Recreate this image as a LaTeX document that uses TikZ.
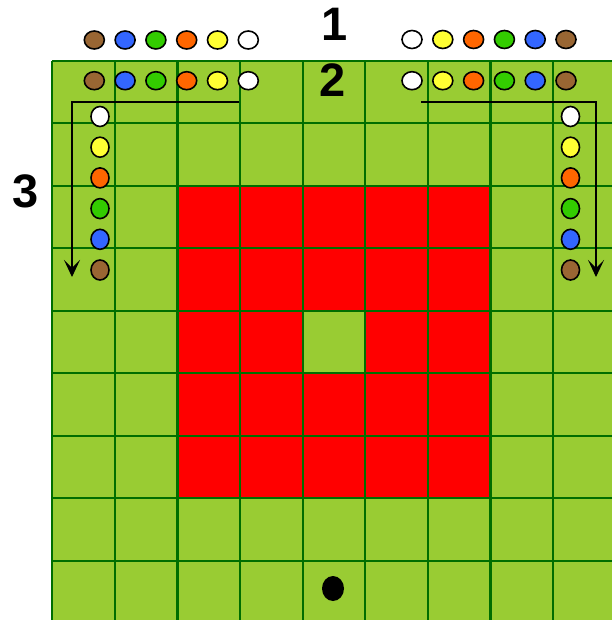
\documentclass[tikz,border=0pt]{standalone}
\usepackage{fontspec}
\setmainfont{Liberation Sans}
\usetikzlibrary{arrows.meta,shapes.geometric}
\definecolor{board}{RGB}{153,204,51}
\definecolor{gline}{RGB}{0,110,0}
\definecolor{brownc}{RGB}{153,102,51}
\definecolor{bluec}{RGB}{51,102,255}
\definecolor{greenc}{RGB}{51,204,0}
\definecolor{orangec}{RGB}{255,102,0}
\definecolor{yellowc}{RGB}{255,255,51}
\definecolor{whitec}{RGB}{255,255,255}
\begin{document}
\begin{tikzpicture}[x=1pt,y=-1pt,
  gridl/.style={draw=gline,line width=2.3pt},
  hbead/.style={ellipse,draw=black,line width=1.6pt,minimum width=20pt,minimum height=18pt,inner sep=0pt},
  vbead/.style={ellipse,draw=black,line width=1.6pt,minimum width=18pt,minimum height=20pt,inner sep=0pt},
  lab/.style={font=\fontsize{47}{47}\selectfont\bfseries,inner sep=0pt,text depth=0pt},
  arr/.style={draw=black,line width=1.7pt,-{Stealth[length=17pt,width=16pt,inset=8pt,line width=1pt]}}]
\useasboundingbox (0,0) rectangle (612,620);
\fill[white] (0,0) rectangle (612,620);
\fill[board] (52.3,60.7) rectangle (612,620);
\fill[red] (177.5,185.7) rectangle (490.5,498.2);
\fill[board] (302.7,310.7) rectangle (365.3,373.2);
\foreach \i in {0,...,8} \draw[gridl] ({52.3+62.6*\i},60.7) -- ({52.3+62.6*\i},620);
\foreach \j in {0,...,8} \draw[gridl] (52.3,{60.7+62.5*\j}) -- (612,{60.7+62.5*\j});
% top rows
\foreach \c [count=\k from 0] in {brownc,bluec,greenc,orangec,yellowc,whitec} {
  \node[hbead,fill=\c] (la\k) at ({94.3+30.8*\k},40) {};
  \node[hbead,fill=\c] (lb\k) at ({94.3+30.8*\k},80.7) {};
}
\foreach \c [count=\k from 0] in {whitec,yellowc,orangec,greenc,bluec,brownc} {
  \node[hbead,fill=\c] (ra\k) at ({412+30.8*\k},39.5) {};
  \node[hbead,fill=\c] (rb\k) at ({412+30.8*\k},80.7) {};
  \node[vbead,fill=\c] (lv\k) at (100,{116.5+30.7*\k}) {};
  \node[vbead,fill=\c] (rv\k) at (570.5,{116.5+30.7*\k}) {};
}
% arrows
\coordinate (las) at (239,101.7);
\coordinate (lac) at (72,101.7);
\coordinate (lae) at (72,277);
\coordinate (ras) at (421,101.7);
\coordinate (rac) at (596,101.7);
\coordinate (rae) at (596,277);
\draw[arr] (las) -- (lac) -- (lae);
\draw[arr] (ras) -- (rac) -- (rae);
% labels
\node[lab] (n1) at (335,24.5) {1};
\node[lab] (n2) at (333,80.5) {2};
\node[lab] (n3) at (26,191.5) {3};
% dot
\node[ellipse,fill=black,minimum width=22pt,minimum height=25pt,inner sep=0pt] (dot) at (333,588.5) {};
\end{tikzpicture}
\end{document}
